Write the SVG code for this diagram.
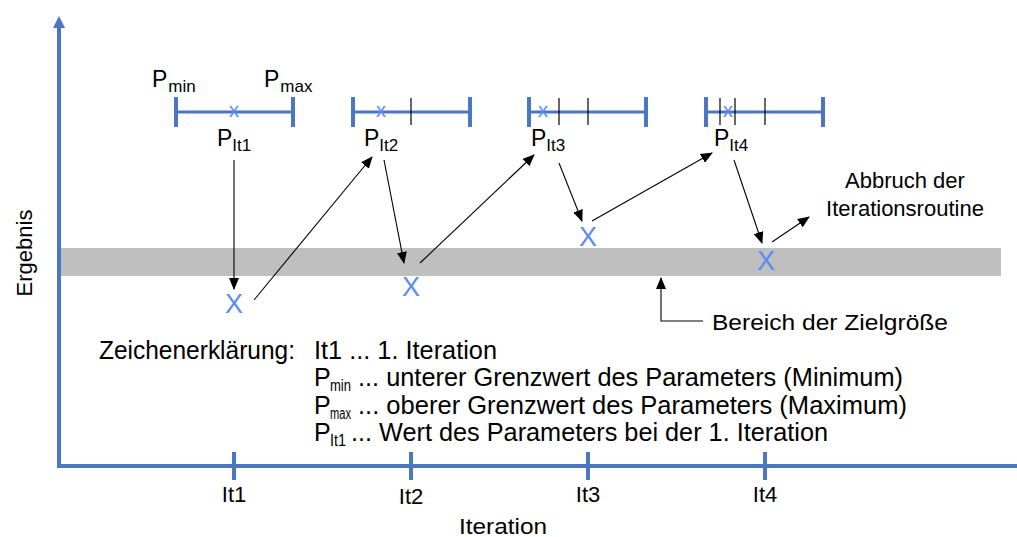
<svg xmlns="http://www.w3.org/2000/svg" width="1017" height="537" viewBox="0 0 1017 537">
<style>
text{font-family:"Liberation Sans",Arial,sans-serif;fill:#000}
.ax{stroke:#4a76c4;stroke-width:4;fill:none}
.bar{stroke:#4a76c4;stroke-width:3;fill:none}
.cap{stroke:#4a76c4;stroke-width:4;fill:none}
.tk{stroke:#000;stroke-width:1.2}
.c{stroke:#000;stroke-width:1.1;fill:none;marker-end:url(#ah)}
.bx{fill:#5a8cf5;font-size:27px}
.sx{fill:#5a8cf5;font-size:20px}
.lbl{font-size:22px}
.pl{font-size:23px}
.sub{font-size:17px}
.lg{font-size:25px}
.lgs{font-size:16px}
</style>
<defs>
<marker id="ah" markerWidth="12" markerHeight="10" refX="11" refY="5" orient="auto" markerUnits="userSpaceOnUse">
<path d="M0,0 L12,5 L0,10 z" fill="#000"/>
</marker>
<marker id="axh" markerWidth="16" markerHeight="12" refX="2" refY="6" orient="auto" markerUnits="userSpaceOnUse">
<path d="M0,0 L12,6 L0,12 z" fill="#4a76c4"/>
</marker>
</defs>
<rect x="61" y="248" width="940" height="28" fill="#bfbfbf"/>
<g id="axes">
<line class="ax" x1="59" y1="468" x2="59" y2="26" marker-end="url(#axh)"/>
<line class="ax" x1="57" y1="466" x2="1017" y2="466"/>
<g class="cap" stroke-width="3">
<line x1="234" y1="452" x2="234" y2="480"/>
<line x1="411" y1="452" x2="411" y2="480"/>
<line x1="588" y1="452" x2="588" y2="480"/>
<line x1="765" y1="452" x2="765" y2="480"/>
</g>
<text class="lbl" x="234" y="502" text-anchor="middle">It1</text>
<text class="lbl" x="411" y="504" text-anchor="middle">It2</text>
<text class="lbl" x="588" y="502" text-anchor="middle">It3</text>
<text class="lbl" x="765" y="502" text-anchor="middle">It4</text>
<text class="lbl" x="503" y="534" text-anchor="middle" textLength="88" lengthAdjust="spacingAndGlyphs">Iteration</text>
<text class="lbl" transform="translate(32,253) rotate(-90)" text-anchor="middle">Ergebnis</text>
</g>
<g id="range1">
<line class="bar" x1="176" y1="112" x2="293" y2="112"/>
<line class="cap" x1="176" y1="97" x2="176" y2="127"/>
<line class="cap" x1="293" y1="97" x2="293" y2="127"/>
<text class="sx" x="234" y="117" text-anchor="middle">x</text>
<text class="pl" x="152" y="87">P<tspan class="sub" dx="1" dy="5">min</tspan></text>
<text class="pl" x="264" y="87">P<tspan class="sub" dx="1" dy="5">max</tspan></text>
<text class="pl" x="217" y="146">P<tspan class="sub" dy="5">It1</tspan></text>
</g>
<g id="range2">
<line class="bar" x1="353" y1="112" x2="470" y2="112"/>
<line class="cap" x1="353" y1="97" x2="353" y2="127"/>
<line class="cap" x1="470" y1="97" x2="470" y2="127"/>
<line class="tk" x1="411" y1="98" x2="411" y2="125"/>
<text class="sx" x="381" y="117" text-anchor="middle">x</text>
<text class="pl" x="364" y="146">P<tspan class="sub" dy="5">It2</tspan></text>
</g>
<g id="range3">
<line class="bar" x1="529" y1="112" x2="646" y2="112"/>
<line class="cap" x1="529" y1="97" x2="529" y2="127"/>
<line class="cap" x1="646" y1="97" x2="646" y2="127"/>
<line class="tk" x1="559" y1="98" x2="559" y2="125"/>
<line class="tk" x1="588" y1="98" x2="588" y2="125"/>
<text class="sx" x="543" y="117" text-anchor="middle">x</text>
<text class="pl" x="531" y="146">P<tspan class="sub" dy="5">It3</tspan></text>
</g>
<g id="range4">
<line class="bar" x1="706" y1="112" x2="823" y2="112"/>
<line class="cap" x1="706" y1="97" x2="706" y2="127"/>
<line class="cap" x1="823" y1="97" x2="823" y2="127"/>
<line class="tk" x1="720" y1="98" x2="720" y2="125"/>
<line class="tk" x1="735" y1="98" x2="735" y2="125"/>
<line class="tk" x1="765" y1="98" x2="765" y2="125"/>
<text class="sx" x="728" y="117" text-anchor="middle">x</text>
<text class="pl" x="714" y="146">P<tspan class="sub" dy="5">It4</tspan></text>
</g>
<g id="results">
<text class="bx" x="234" y="313" text-anchor="middle">X</text>
<text class="bx" x="411" y="296" text-anchor="middle">X</text>
<text class="bx" x="588" y="246" text-anchor="middle">X</text>
<text class="bx" x="766" y="270" text-anchor="middle">X</text>
</g>
<g id="connectors">
<line class="c" x1="234" y1="160" x2="234" y2="289"/>
<line class="c" x1="254" y1="300" x2="372" y2="157"/>
<line class="c" x1="384" y1="160" x2="404" y2="263"/>
<line class="c" x1="420" y1="263" x2="534" y2="155"/>
<line class="c" x1="559" y1="163" x2="582" y2="221"/>
<line class="c" x1="592" y1="221" x2="712" y2="153"/>
<line class="c" x1="734" y1="160" x2="762" y2="243"/>
<line class="c" x1="772" y1="242" x2="809" y2="217"/>
<polyline class="c" points="703,321 661,321 661,278"/>
</g>
<g id="notes">
<text class="lbl" x="905" y="188" text-anchor="middle">Abbruch der</text>
<text class="lbl" x="905" y="216" text-anchor="middle">Iterationsroutine</text>
<text class="lbl" x="712" y="330" textLength="236" lengthAdjust="spacingAndGlyphs">Bereich der Zielgröße</text>
</g>
<g id="legend">
<text class="lg" x="99" y="359" textLength="196" lengthAdjust="spacingAndGlyphs">Zeichenerklärung:</text>
<text class="lg" x="314" y="359" textLength="183" lengthAdjust="spacingAndGlyphs">It1 ... 1. Iteration</text>
<text class="lg" x="314" y="386">P</text>
<text class="lgs" x="330" y="391" textLength="21" lengthAdjust="spacingAndGlyphs">min</text>
<text class="lg" x="358" y="386" textLength="545" lengthAdjust="spacingAndGlyphs">... unterer Grenzwert des Parameters (Minimum)</text>
<text class="lg" x="314" y="414">P</text>
<text class="lgs" x="330" y="419" textLength="21" lengthAdjust="spacingAndGlyphs">max</text>
<text class="lg" x="358" y="414" textLength="549" lengthAdjust="spacingAndGlyphs">... oberer Grenzwert des Parameters (Maximum)</text>
<text class="lg" x="314" y="441">P</text>
<text class="lgs" x="330" y="446" textLength="16" lengthAdjust="spacingAndGlyphs">It1</text>
<text class="lg" x="351" y="441" textLength="477" lengthAdjust="spacingAndGlyphs">... Wert des Parameters bei der 1. Iteration</text>
</g>
</svg>
